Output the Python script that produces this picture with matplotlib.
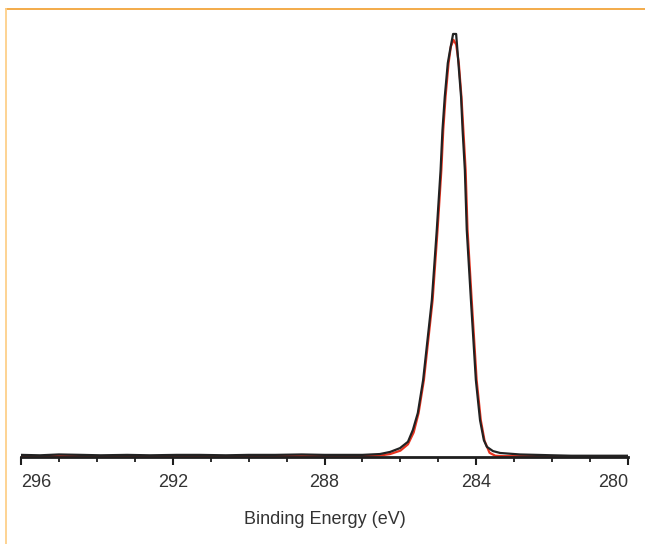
import matplotlib.pyplot as plt
from matplotlib.lines import Line2D
from matplotlib.ticker import MultipleLocator

energy_meas = [296.0, 295.5, 295.0, 294.4, 293.9, 293.2, 292.6, 291.9, 291.3,
               290.6, 290.0, 289.3, 288.6, 288.0, 287.6, 287.0, 286.54, 286.27,
               286.01, 285.80, 285.67, 285.54, 285.40, 285.17, 285.04, 284.94,
               284.89, 284.83, 284.75, 284.69, 284.61, 284.53, 284.47, 284.40,
               284.36, 284.30, 284.25, 284.14, 284.01, 283.90, 283.80, 283.72,
               283.56, 283.37, 282.85, 282.4, 281.98, 281.5, 281.0, 280.5, 280.0]
counts_meas = [0.5, 0.4, 0.6, 0.5, 0.4, 0.5, 0.4, 0.5, 0.5,
               0.4, 0.5, 0.5, 0.6, 0.5, 0.5, 0.5, 0.7, 1.2,
               2.1, 3.6, 6.4, 10.4, 18.2, 37.1, 53.7, 67.8,
               77.3, 85.1, 93.1, 96.2, 100.0, 100.0, 93.1, 85.1,
               77.3, 67.8, 53.7, 37.1, 18.2, 8.7, 4.0, 2.4,
               1.4, 0.95, 0.6, 0.5, 0.4, 0.3, 0.3, 0.3, 0.3]

# fitted envelope (red)
energy_fit = [296.0, 287.0, 286.5, 286.27, 286.0, 285.8, 285.65, 285.52, 285.38,
              285.15, 285.02, 284.92, 284.87, 284.81, 284.73, 284.67, 284.60,
              284.53, 284.46, 284.39, 284.34, 284.28, 284.23, 284.12, 283.99,
              283.88, 283.78, 283.65, 283.5, 283.3, 280.0]
counts_fit = [0.2, 0.2, 0.4, 0.7, 1.5, 3.0, 5.8, 10.4, 18.2,
              37.1, 53.7, 67.8, 77.3, 85.1, 93.1, 97.0, 98.6,
              97.5, 93.1, 85.1, 77.3, 67.8, 53.7, 37.1, 18.2,
              8.7, 3.8, 1.0, 0.3, 0.2, 0.2]

tick_vals = [296, 292, 288, 284, 280]

plt.rcParams['font.family'] = ['Liberation Sans', 'DejaVu Sans']

fig = plt.figure(figsize=(6.45, 5.44), dpi=100)
ax = fig.add_axes([21 / 645, 1 - 457 / 544, 607 / 645, 437 / 544])

ax.plot(energy_fit, counts_fit, color='#e8321e', lw=1.6, zorder=2)
ax.plot(energy_meas, counts_meas, color='#222222', lw=1.6, zorder=3)

ax.set_xlim(296, 280)
ax.set_ylim(0, 103.3)
ax.set_xticks(tick_vals)
ax.set_xticklabels([str(t) for t in tick_vals])
ax.xaxis.set_minor_locator(MultipleLocator(1))
ax.set_yticks([])
for s in ['left', 'right', 'top']:
    ax.spines[s].set_visible(False)
ax.spines['bottom'].set_color('#1e1e1e')
ax.spines['bottom'].set_linewidth(2.0)
ax.tick_params(axis='x', which='major', length=6, width=1.5, color='#1e1e1e',
               labelsize=13, labelcolor='#333333', pad=6)
ax.tick_params(axis='x', which='minor', length=3.5, width=1.3, color='#1e1e1e')
labels = ax.get_xticklabels()
labels[0].set_horizontalalignment('left')
labels[-1].set_horizontalalignment('right')
ax.set_xlabel('Binding Energy (eV)', fontsize=13, color='#333333', labelpad=15)

# outer frame lines
fig.add_artist(Line2D([6 / 645, 1], [1 - 9 / 544, 1 - 9 / 544],
                      transform=fig.transFigure, color='#f2a53c', lw=1.3))
fig.add_artist(Line2D([6 / 645, 6 / 645], [0, 1 - 9 / 544],
                      transform=fig.transFigure, color='#fdd08a', lw=1.3))

fig.savefig('out.png', dpi=100)
